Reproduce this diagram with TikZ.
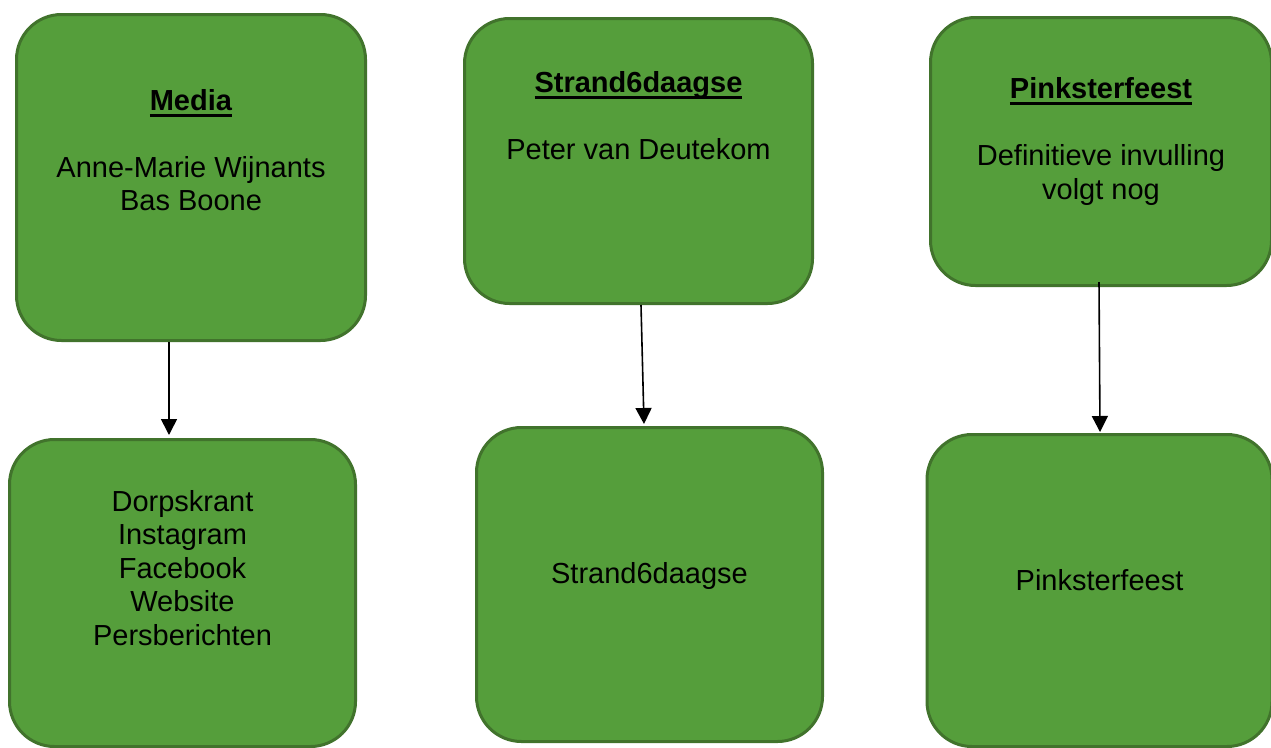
\documentclass[tikz,border=0pt]{standalone}
\usepackage{fontspec}
\setmainfont{Liberation Sans}
\usetikzlibrary{positioning}
\usetikzlibrary{arrows.meta}
\definecolor{box-green}{HTML}{559E3B}
\definecolor{box-dark}{HTML}{41732C}
\colorlet{box}{box-green}
\colorlet{rand}{box-dark}
\tikzset{
  blok/.style={draw=rand,fill=box,line width=3pt,rounded corners=45pt},
  tekst/.style={align=center,font=\fontsize{29}{33.5}\selectfont},
  pijl/.style={line width=1.6pt,-{Triangle[width=16pt,length=16pt]}}
}
% vet en dik onderstreept
\newcommand{\kop}[1]{\setbox0\hbox{\textbf{#1}}\rlap{\rule[-6.5pt]{\wd0}{3pt}}\box0}
\begin{document}
\begin{tikzpicture}[x=1pt,y=-1pt]
\useasboundingbox (0,0) rectangle (1271,747);
% bovenste rij
\node[blok,minimum width=349pt,minimum height=326pt] (media) at (191,177.5) {};
\node[blok,minimum width=348pt,minimum height=285pt] (strand) at (638.5,161) {};
\node[blok,minimum width=341pt,minimum height=268pt] (pinkster) at (1101,151.5) {};
% onderste rij
\node[blok,minimum width=346pt,minimum height=307pt] (mediaout) at (182.5,593) {};
\node[blok,minimum width=346pt,minimum height=314pt] (strandout) at (649.5,584.5) {};
\node[blok,minimum width=345pt,minimum height=312pt] (pinksterout) at (1099.5,590.5) {};
% teksten
\node[tekst] (mediatxt) at (191,150) {\kop{Media}\\[33.5pt]Anne-Marie Wijnants\\Bas Boone};
\node[tekst] (strandtxt) at (638.5,115.5) {\kop{Strand6daagse}\\[33.5pt]Peter van Deutekom};
\node[tekst] (pinkstertxt) at (1101,141.5) {\kop{Pinksterfeest}\\[33.5pt]Definitieve invulling\\volgt nog};
\node[tekst] (mediaouttxt) at (182.5,568) {Dorpskrant\\Instagram\\Facebook\\Website\\Persberichten};
\node[tekst] (strandouttxt) at (649.5,576) {Strand6daagse};
\node[tekst] (pinksterouttxt) at (1099.5,580) {Pinksterfeest};
% pijlen
\draw[pijl] ([xshift=-22pt]media.south) -- ([xshift=-13.5pt,yshift=3pt]mediaout.north);
\draw[pijl] ([xshift=2.5pt]strand.south) -- ([xshift=-5.5pt,yshift=2pt]strandout.north);
\draw[pijl] ([xshift=-2pt,yshift=5pt]pinkster.south) -- ([xshift=0.5pt,yshift=1pt]pinksterout.north);
\end{tikzpicture}
\end{document}
